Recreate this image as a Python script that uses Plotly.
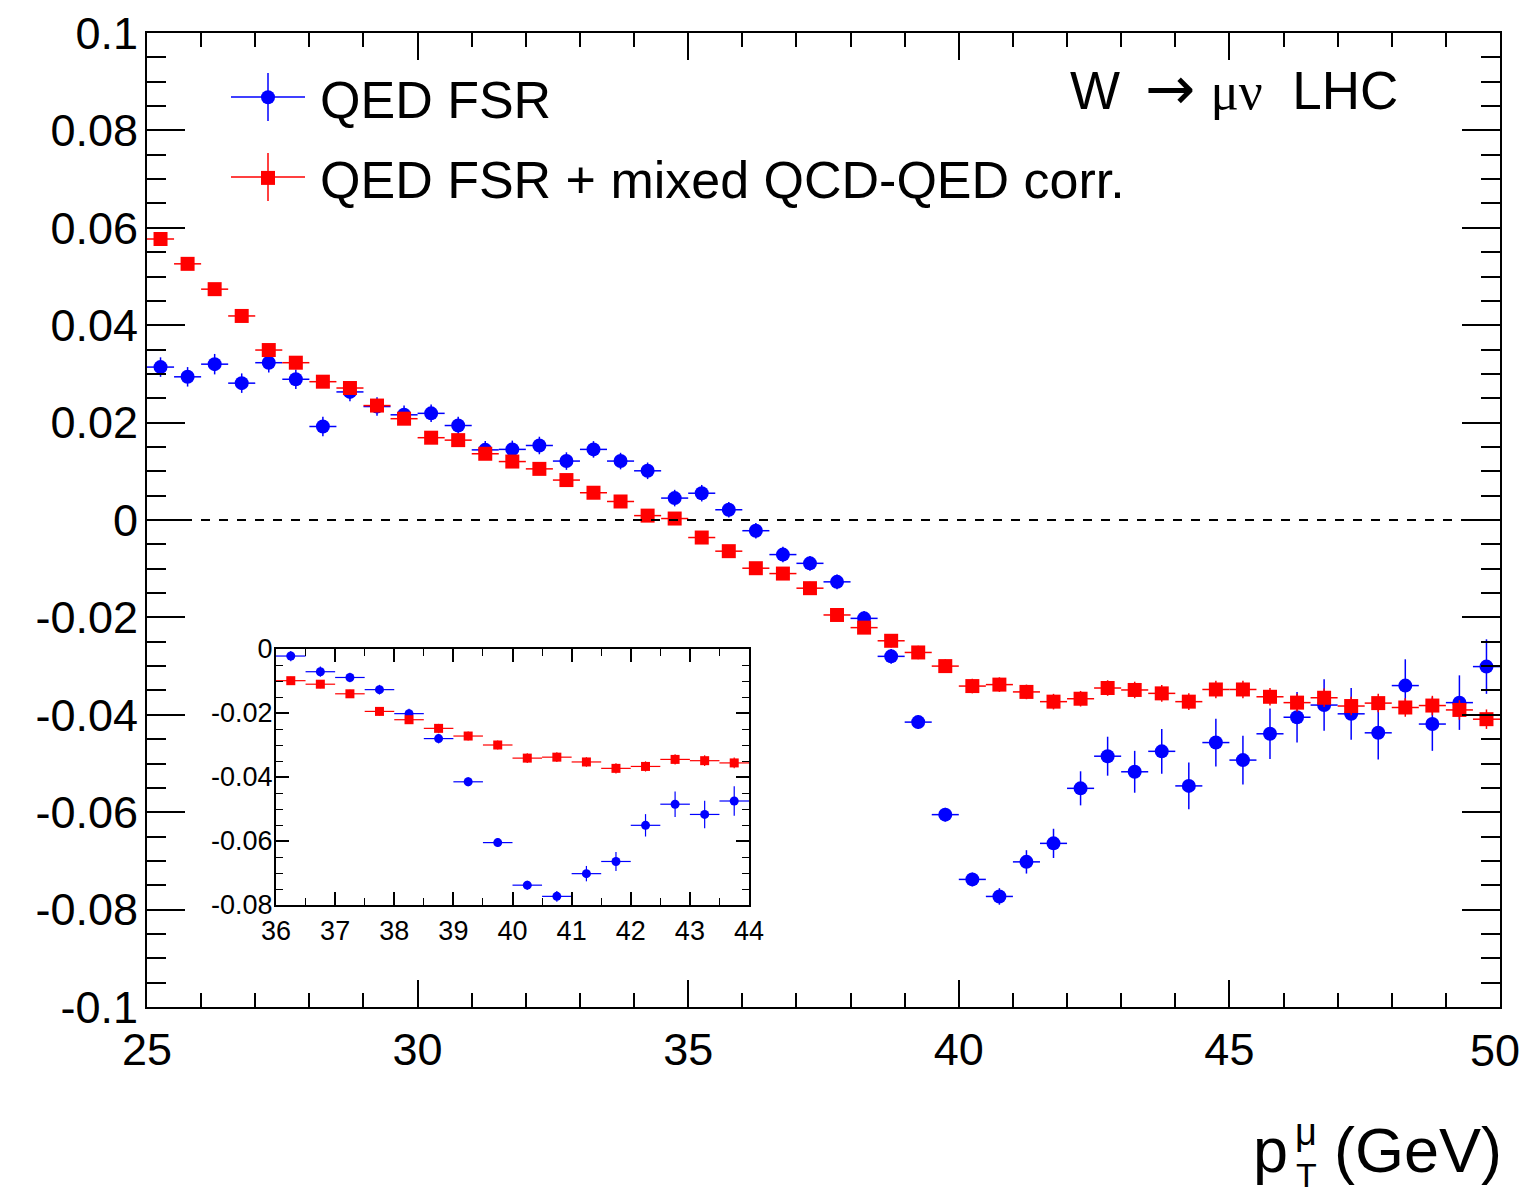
import plotly.graph_objects as go

# ---------------- data ----------------
pt_centers = [25.25, 25.75, 26.25, 26.75, 27.25, 27.75, 28.25, 28.75, 29.25, 29.75,
              30.25, 30.75, 31.25, 31.75, 32.25, 32.75, 33.25, 33.75, 34.25, 34.75,
              35.25, 35.75, 36.25, 36.75, 37.25, 37.75, 38.25, 38.75, 39.25, 39.75,
              40.25, 40.75, 41.25, 41.75, 42.25, 42.75, 43.25, 43.75, 44.25, 44.75,
              45.25, 45.75, 46.25, 46.75, 47.25, 47.75, 48.25, 48.75, 49.25, 49.75]
bin_half_width = [0.25] * 50

qed_fsr = [0.0314, 0.0294, 0.0320, 0.0281, 0.0323, 0.0289, 0.0192, 0.0263, 0.0233, 0.0216,
           0.0219, 0.0194, 0.0144, 0.0145, 0.0153, 0.0121, 0.0145, 0.0121, 0.0101, 0.0045,
           0.0055, 0.0021, -0.0022, -0.0071, -0.0089, -0.0127, -0.0202, -0.0280, -0.0415, -0.0605,
           -0.0738, -0.0773, -0.0702, -0.0664, -0.0551, -0.0485, -0.0517, -0.0475, -0.0546, -0.0457,
           -0.0493, -0.0439, -0.0405, -0.0380, -0.0398, -0.0437, -0.0340, -0.0419, -0.0375, -0.0301]
qed_fsr_err = [0.0020, 0.0020, 0.0021, 0.0020, 0.0020, 0.0020, 0.0020, 0.0019, 0.0019, 0.0019,
               0.0018, 0.0018, 0.0018, 0.0018, 0.0018, 0.0018, 0.0017, 0.0017, 0.0017, 0.0017,
               0.0017, 0.0016, 0.0016, 0.0016, 0.0015, 0.0015, 0.0015, 0.0015, 0.0014, 0.0014,
               0.0014, 0.0017, 0.0024, 0.0030, 0.0035, 0.0040, 0.0043, 0.0046, 0.0048, 0.0049,
               0.0050, 0.0052, 0.0052, 0.0053, 0.0053, 0.0055, 0.0054, 0.0055, 0.0056, 0.0056]

qed_mixed = [0.0577, 0.0526, 0.0474, 0.0419, 0.0349, 0.0323, 0.0284, 0.0271, 0.0235, 0.0208,
             0.0169, 0.0164, 0.0136, 0.0120, 0.0105, 0.0082, 0.0056, 0.0038, 0.0009, 0.0003,
             -0.0036, -0.0064, -0.0099, -0.0110, -0.0140, -0.0195, -0.0221, -0.0248, -0.0272, -0.0300,
             -0.0341, -0.0338, -0.0353, -0.0373, -0.0367, -0.0345, -0.0349, -0.0356, -0.0373, -0.0348,
             -0.0348, -0.0363, -0.0375, -0.0365, -0.0382, -0.0376, -0.0385, -0.0381, -0.0390, -0.0409]
qed_mixed_err = [0.0009, 0.0009, 0.0009, 0.0009, 0.0010, 0.0010, 0.0010, 0.0010, 0.0010, 0.0010,
                 0.0010, 0.0010, 0.0010, 0.0011, 0.0011, 0.0011, 0.0011, 0.0011, 0.0012, 0.0012,
                 0.0012, 0.0012, 0.0012, 0.0013, 0.0013, 0.0013, 0.0013, 0.0014, 0.0014, 0.0014,
                 0.0015, 0.0015, 0.0015, 0.0016, 0.0016, 0.0016, 0.0017, 0.0017, 0.0017, 0.0018,
                 0.0018, 0.0018, 0.0018, 0.0019, 0.0019, 0.0019, 0.0019, 0.0020, 0.0020, 0.0020]

main_y_ticks = [-0.1, -0.08, -0.06, -0.04, -0.02, 0, 0.02, 0.04, 0.06, 0.08, 0.1]
main_y_labels = ["-0.1", "-0.08", "-0.06", "-0.04", "-0.02", "0", "0.02", "0.04", "0.06", "0.08", "0.1"]
main_x_ticks = [25, 30, 35, 40, 45, 50]
main_x_labels = ["25", "30", "35", "40", "45", ""]   # "50" drawn separately at the edge
main_x_last_label = "50"
inset_y_ticks = [-0.08, -0.06, -0.04, -0.02, 0]
inset_y_labels = ["-0.08", "-0.06", "-0.04", "-0.02", "0"]
inset_x_ticks = [36, 37, 38, 39, 40, 41, 42, 43, 44]

label_fsr = "QED FSR"
label_mixed = "QED FSR + mixed QCD-QED corr."

# ---------------- layout geometry ----------------
W, H = 1522, 1195
ML, MR, MT, MB = 147, 22, 33, 188
PW, PH = W - ML - MR, H - MT - MB
FONT = "Liberation Sans, Arial, Helvetica, sans-serif"
BLUE = "#0000ff"
RED = "#ff0000"


def px_x(px):
    return (px - ML) / PW


def px_y(py):
    return (H - MB - py) / PH


fig = go.Figure()

# main plot traces
fig.add_trace(go.Scatter(
    x=pt_centers, y=qed_fsr, mode="markers", name=label_fsr, legendgroup="a",
    marker=dict(symbol="circle", size=14, color=BLUE),
    error_y=dict(type="data", array=qed_fsr_err, color=BLUE, thickness=1.5, width=0),
    error_x=dict(type="data", array=bin_half_width, color=BLUE, thickness=1.5, width=0),
    xaxis="x", yaxis="y"))
fig.add_trace(go.Scatter(
    x=pt_centers, y=qed_mixed, mode="markers", name=label_mixed, legendgroup="b",
    marker=dict(symbol="square", size=14, color=RED),
    error_y=dict(type="data", array=qed_mixed_err, color=RED, thickness=1.5, width=0),
    error_x=dict(type="data", array=bin_half_width, color=RED, thickness=1.5, width=0),
    xaxis="x", yaxis="y"))

# inset traces
fig.add_trace(go.Scatter(
    x=pt_centers, y=qed_fsr, mode="markers", showlegend=False,
    marker=dict(symbol="circle", size=9, color=BLUE),
    error_y=dict(type="data", array=qed_fsr_err, color=BLUE, thickness=1.2, width=0),
    error_x=dict(type="data", array=bin_half_width, color=BLUE, thickness=1.2, width=0),
    xaxis="x2", yaxis="y2"))
fig.add_trace(go.Scatter(
    x=pt_centers, y=qed_mixed, mode="markers", showlegend=False,
    marker=dict(symbol="square", size=9, color=RED),
    error_y=dict(type="data", array=qed_mixed_err, color=RED, thickness=1.2, width=0),
    error_x=dict(type="data", array=bin_half_width, color=RED, thickness=1.2, width=0),
    xaxis="x2", yaxis="y2"))

axis_common = dict(showgrid=False, zeroline=False, showline=True, linecolor="black",
                   linewidth=2, mirror="allticks", ticks="inside", tickcolor="black",
                   tickwidth=1.5, automargin=False)

fig.update_layout(
    width=W, height=H, autosize=False,
    margin=dict(l=ML, r=MR, t=MT, b=MB, pad=0, autoexpand=False),
    paper_bgcolor="white", plot_bgcolor="white",
    font=dict(family=FONT, color="black"),
    xaxis=dict(domain=[0, 1], range=[25, 50], tickvals=main_x_ticks, ticktext=main_x_labels,
               ticklen=27,
               minor=dict(dtick=1, ticklen=14, ticks="inside", tickcolor="black", tickwidth=1.5),
               tickfont=dict(size=45, family=FONT), ticklabelstandoff=2, anchor="y",
               **axis_common),
    yaxis=dict(domain=[0, 1], range=[-0.1, 0.1], tickvals=main_y_ticks, ticktext=main_y_labels,
               ticklen=38, minor=dict(dtick=0.005, ticklen=19, ticks="inside", tickcolor="black",
                                      tickwidth=1.5),
               tickfont=dict(size=45, family=FONT), ticklabelstandoff=-2, anchor="x",
               ticklabeloverflow="allow", **axis_common),
    xaxis2=dict(domain=[px_x(276), px_x(749)], range=[36, 44], tickvals=inset_x_ticks,
                ticklen=13, minor=dict(dtick=0.5, ticklen=7, ticks="inside", tickcolor="black",
                                       tickwidth=1.2),
                tickfont=dict(size=27, family=FONT), ticklabelstandoff=1, anchor="y2",
                ticklabeloverflow="allow", **axis_common),
    yaxis2=dict(domain=[px_y(905), px_y(649)], range=[-0.08, 0], tickvals=inset_y_ticks,
                ticktext=inset_y_labels, ticklen=13,
                minor=dict(dtick=0.005, ticklen=7, ticks="inside", tickcolor="black",
                           tickwidth=1.2),
                tickfont=dict(size=27, family=FONT), ticklabelstandoff=-4, anchor="x2",
                ticklabeloverflow="allow", **axis_common),
    legend=dict(x=px_x(216), y=px_y(57), xanchor="left", yanchor="top",
                bgcolor="rgba(0,0,0,0)", font=dict(size=52, family=FONT),
                itemwidth=94, tracegroupgap=10, traceorder="grouped"),
    showlegend=True,
)

# last x tick label, nudged to stay inside the page
fig.add_annotation(xref="x", yref="paper", x=main_x_ticks[-1], y=px_y(1050), xanchor="center",
                   yanchor="middle", xshift=-5, showarrow=False, text=main_x_last_label,
                   font=dict(size=45, family=FONT, color="black"))

# zero reference line
fig.add_shape(type="line", xref="x", yref="y", x0=25, x1=50, y0=0, y1=0,
              line=dict(color="black", width=2, dash="9px,9px"))

# legend error-bar crosses (decoration around legend symbols)
leg_sym_x = 268
for row_y, col in [(97, BLUE), (177, RED)]:
    fig.add_shape(type="line", xref="paper", yref="paper",
                  x0=px_x(leg_sym_x - 37), x1=px_x(leg_sym_x + 37),
                  y0=px_y(row_y), y1=px_y(row_y), line=dict(color=col, width=1.5), layer="below")
    fig.add_shape(type="line", xref="paper", yref="paper",
                  x0=px_x(leg_sym_x), x1=px_x(leg_sym_x),
                  y0=px_y(row_y - 24), y1=px_y(row_y + 24), line=dict(color=col, width=1.5),
                  layer="below")

# title text
fig.add_annotation(xref="paper", yref="paper", x=px_x(1400), y=px_y(88), xanchor="right",
                   yanchor="middle", showarrow=False,
                   text="W \u2009<span style='font-family:DejaVu Sans;font-size:60px'>\u2192</span> "
                        "<span style='font-family:Liberation Serif, Times New Roman, serif'>\u03bc\u03bd</span>"
                        "\u00a0\u00a0LHC",
                   font=dict(size=53, family=FONT, color="black"))

# x-axis title: p_T^mu (GeV)
fig.add_annotation(xref="paper", yref="paper", x=px_x(1504), y=px_y(1150), xanchor="right",
                   yanchor="middle", showarrow=False, text="(GeV)",
                   font=dict(size=63, family=FONT, color="black"))
fig.add_annotation(xref="paper", yref="paper", x=px_x(1290), y=px_y(1150), xanchor="right",
                   yanchor="middle", showarrow=False, text="p",
                   font=dict(size=63, family=FONT, color="black"))
fig.add_annotation(xref="paper", yref="paper", x=px_x(1306), y=px_y(1132), xanchor="center",
                   yanchor="middle", showarrow=False, text="\u03bc",
                   font=dict(size=38, family=FONT, color="black"))
fig.add_annotation(xref="paper", yref="paper", x=px_x(1306), y=px_y(1195), xanchor="center",
                   yanchor="bottom", showarrow=False, text="T", borderpad=0,
                   font=dict(size=34, family=FONT, color="black"))

fig.write_html("out.html",
               config={"displayModeBar": False, "responsive": False},
               post_script="document.body.style.margin='0px';"
                           "document.body.style.overflow='hidden';")
